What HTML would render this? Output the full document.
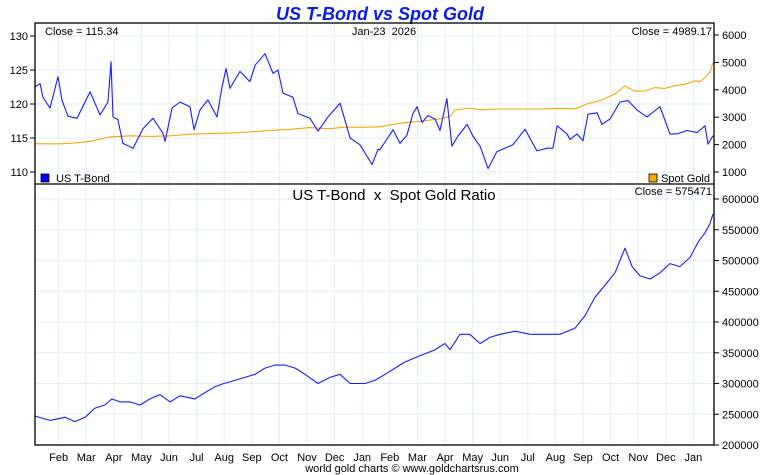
<!DOCTYPE html>
<html><head><meta charset="utf-8"><style>
html,body{margin:0;padding:0;background:#fff;}
svg{display:block;font-family:"Liberation Sans",Arial,sans-serif;}
.pre{white-space:pre;}
</style></head><body>
<svg id="chart" width="760" height="475" viewBox="0 0 760 475">
<text x="380" y="20" text-anchor="middle" font-size="18" font-weight="bold" font-style="italic" fill="#0a1aee">US T-Bond vs Spot Gold</text>
<g id="grid"></g>
<g id="series"></g>
<rect x="35" y="23" width="679" height="422" fill="none" stroke="#000" stroke-width="1.3"/>
<line x1="35" y1="184" x2="714" y2="184" stroke="#000" stroke-width="1.3"/>
<text x="45" y="35" font-size="11">Close = 115.34</text>
<text x="384" y="35" text-anchor="middle" font-size="11" class="pre">Jan-23  2026</text>
<text x="712" y="35" text-anchor="end" font-size="11">Close = 4989.17</text>
<rect x="41" y="174" width="8" height="8" fill="#0000ee" stroke="#000" stroke-width="0.8"/>
<text x="56" y="182" font-size="11">US T-Bond</text>
<rect x="649" y="174" width="8" height="8" fill="#f5a800" stroke="#000" stroke-width="0.8"/>
<text x="710" y="182" text-anchor="end" font-size="11">Spot Gold</text>
<text x="394" y="200" text-anchor="middle" font-size="15" class="pre">US T-Bond  x  Spot Gold Ratio</text>
<text x="712" y="195" text-anchor="end" font-size="11">Close = 575471</text>
<text x="412" y="472" text-anchor="middle" font-size="11">world gold charts © www.goldchartsrus.com</text>
</svg>
<script>
const monthLabels=["Feb","Mar","Apr","May","Jun","Jul","Aug","Sep","Oct","Nov","Dec","Jan","Feb","Mar","Apr","May","Jun","Jul","Aug","Sep","Oct","Nov","Dec","Jan"];
const bondTicks=[110,115,120,125,130];
const goldTicks=[1000,2000,3000,4000,5000,6000];
const ratioTicks=[200000,250000,300000,350000,400000,450000,500000,550000,600000];
const bondDates=[0.14,0.33,0.43,0.69,0.98,1.12,1.34,1.67,2.14,2.5,2.79,2.9,2.97,3.15,3.33,3.7,4.06,4.42,4.78,4.86,5.11,5.4,5.76,5.91,6.12,6.41,6.74,6.92,7.07,7.21,7.57,7.93,8.12,8.48,8.77,8.95,9.13,9.49,9.67,10.11,10.4,10.76,11.2,11.56,11.92,12.36,12.57,12.64,13.12,13.37,13.62,13.84,13.99,14.17,14.38,14.64,14.82,15.07,15.25,15.47,15.8,16.01,16.27,16.56,16.88,17.17,17.46,17.9,18.33,18.7,18.91,19.06,19.42,19.53,19.78,20,20.18,20.51,20.69,20.98,21.34,21.63,21.96,22.32,22.79,23.15,23.41,23.77,24.13,24.42,24.53,24.71];
const bondValues=[122.5,123,121,119.4,124,120.6,118.2,117.9,121.8,118.4,120.3,126.2,118.1,117.7,114.2,113.5,116.4,117.9,115.7,114.5,119.4,120.3,119.6,116.2,119.1,120.6,118.1,122.5,125.2,122.3,124.8,123.3,125.7,127.4,124.5,125,121.6,121,118.6,117.9,116,118.1,120.1,115,114,111.1,113.3,113.3,116.2,114.2,115.4,118.6,119.6,117.3,118.3,117.8,116.1,120.8,113.8,115.3,117,115.3,113.8,110.5,113,113.5,114,116.3,113.1,113.5,113.5,116.8,115.6,114.8,115.6,114.6,118.5,118.7,117,117.8,120.3,120.5,119.1,118.1,119.6,115.6,115.6,116.1,115.8,116.8,114.1,115.34];
const goldDates=[0.14,1.05,1.59,2.14,2.86,3.59,4.31,5.04,5.76,6.49,7.21,7.93,8.66,9.38,10.11,10.47,10.83,11.38,11.92,12.64,13.37,14.09,14.82,15.07,15.2,15.36,15.9,16.27,16.99,17.72,18.44,18.8,19.17,19.71,20.25,20.62,21.16,21.52,21.88,22.25,22.61,22.97,23.33,23.7,24.06,24.24,24.42,24.6,24.71];
const goldValues=[2030,2030,2060,2120,2280,2320,2300,2320,2380,2400,2420,2460,2520,2560,2620,2600,2580,2640,2630,2650,2780,2850,2940,3000,3050,3263,3330,3270,3300,3300,3300,3310,3320,3310,3520,3600,3850,4140,3950,3960,4080,4050,4150,4200,4330,4300,4450,4650,4989.17];
const ratioDates=[0.14,0.69,1.23,1.59,1.96,2.32,2.68,2.93,3.22,3.59,3.95,4.31,4.67,5.04,5.4,5.94,6.3,6.67,6.99,7.39,7.75,8.12,8.48,8.84,9.2,9.57,9.93,10.4,10.83,11.2,11.56,12.1,12.46,12.83,13.19,13.55,14.09,14.64,15,15.18,15.54,15.9,16.27,16.63,16.99,17.54,18.08,18.62,19.17,19.71,20.07,20.43,20.8,21.16,21.52,21.78,22.07,22.43,22.79,23.15,23.51,23.88,24.17,24.42,24.6,24.71];
const ratioValues=[247000,240000,245000,238000,245000,260000,265000,275000,270000,270000,265000,275000,282000,270000,280000,275000,285000,295000,300000,305000,310000,315000,325000,330000,330000,325000,315000,300000,310000,315000,300000,300000,305000,315000,325000,335000,345000,355000,365000,355000,380000,380000,365000,375000,380000,385000,380000,380000,380000,390000,410000,440000,460000,480000,520000,490000,475000,470000,480000,495000,490000,505000,530000,545000,560000,575471];

const NS="http://www.w3.org/2000/svg";
const xS=m=>31+m*27.6;
const yBond=v=>36+(130-v)*6.8;
const yGold=v=>35+(6000-v)*0.0274;
const yRatio=v=>445-(v-200000)*0.000615;
function mk(tag,attrs,parent){const e=document.createElementNS(NS,tag);for(const k in attrs)e.setAttribute(k,attrs[k]);parent.appendChild(e);return e;}
const grid=document.getElementById('grid'),ser=document.getElementById('series'),svg=document.getElementById('chart');
monthLabels.forEach((lab,i)=>{
  const x=xS(i+1);
  const gl=mk('line',{x1:x,x2:x,y1:23,y2:445,stroke:'#e3eef8','stroke-width':1},grid);
  
  
  const t=mk('text',{x:x,y:461,'text-anchor':'middle','font-size':11},svg);
  t.textContent=lab;
  
  
});
bondTicks.forEach(v=>{
  const y=yBond(v);
  const gl=mk('line',{x1:35,x2:714,y1:y,y2:y,stroke:'#e3eef8'},grid);
  
  
  mk('line',{x1:30,x2:35,y1:y,y2:y,stroke:'#000'},svg);
  const t=mk('text',{x:28,y:y+4,'text-anchor':'end','font-size':11},svg);
  t.textContent=v;
  
  
});
goldTicks.forEach(v=>{
  const y=yGold(v);
  mk('line',{x1:714,x2:719,y1:y,y2:y,stroke:'#000'},svg);
  const t=mk('text',{x:722,y:y+4,'font-size':11},svg);
  t.textContent=v;
  
  
});
ratioTicks.forEach(v=>{
  const y=yRatio(v);
  const gl=mk('line',{x1:35,x2:714,y1:y,y2:y,stroke:'#e3eef8'},grid);
  
  
  mk('line',{x1:714,x2:719,y1:y,y2:y,stroke:'#000'},svg);
  const t=mk('text',{x:722,y:y+4,'font-size':11},svg);
  t.textContent=v;
  
  
});
function line(dates,vals,yf,color,name){
  const d=dates.map((m,i)=>(i?'L':'M')+xS(m).toFixed(1)+' '+yf(vals[i]).toFixed(1)).join(' ');
  const p=mk('path',{d:d,fill:'none',stroke:color,'stroke-width':1.1,'stroke-linejoin':'round'},ser);
  
  
}
line(goldDates,goldValues,yGold,'#f5a800','gold-line');
line(bondDates,bondValues,yBond,'#1a1aff','tbond-line');
line(ratioDates,ratioValues,yRatio,'#1a1aff','ratio-line');
</script>
</body></html>
